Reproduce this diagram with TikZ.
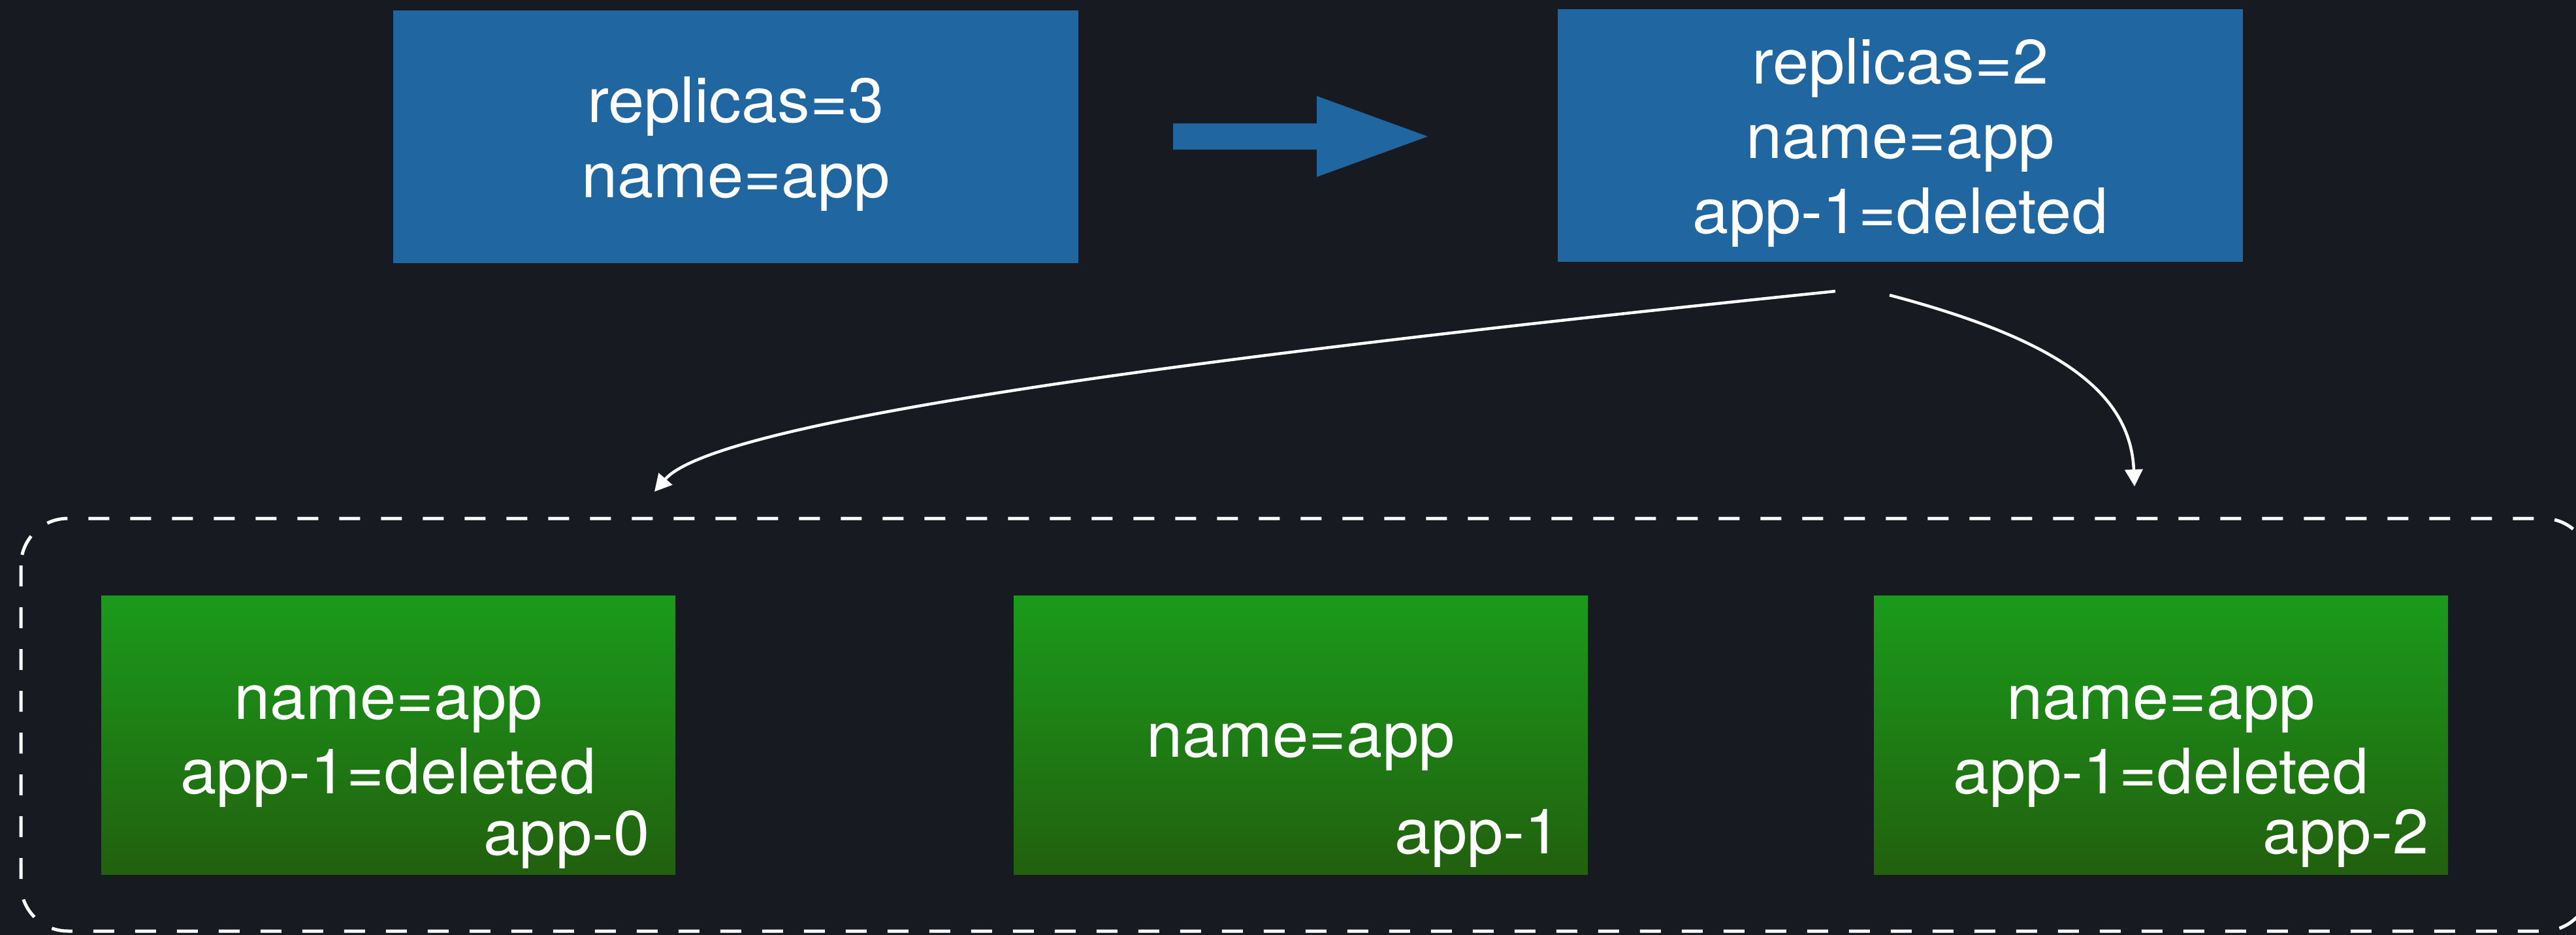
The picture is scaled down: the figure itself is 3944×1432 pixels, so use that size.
\documentclass[tikz,border=0pt]{standalone}
\usepackage{fontspec}
\setmainfont{TeX Gyre Heros}[FakeStretch=1.035]
\usetikzlibrary{arrows.meta}
\definecolor{bg}{HTML}{171A21}
\definecolor{boxblue}{HTML}{2066A0}
\definecolor{gtop}{HTML}{1A9B1B}
\definecolor{gbot}{HTML}{22600E}
\begin{document}
\begin{tikzpicture}[x=1pt,y=-1pt,
  bluebox/.style={fill=boxblue, draw=none, inner sep=0pt, minimum width=1049pt, minimum height=387pt},
  podbox/.style={top color=gtop, bottom color=gbot, draw=none, inner sep=0pt, minimum width=879pt, minimum height=427pt},
  lbl/.style={text=white, font=\fontsize{96}{115}\selectfont, inner sep=0pt, anchor=base},
  rlbl/.style={lbl, anchor=base east},
  link/.style={draw=white, line width=4.5pt, -{Triangle[length=26pt,width=27pt]}},
  group/.style={draw=white, line width=5pt, dash pattern=on 32pt off 32pt, rounded corners=72pt}
]
\useasboundingbox (0,0) rectangle (3944,1432);
\fill[bg] (0,0) rectangle (3944,1432);

% top boxes
\node[bluebox] (old) at (1126.5,209.5) {};
\node[bluebox] (new) at (2909.5,207.5) {};
\node[lbl] (oldA) at (1126.5,187) {replicas=3};
\node[lbl] (oldB) at (1126.5,302) {name=app};
\node[lbl] (newA) at (2909.5,128) {replicas=2};
\node[lbl] (newB) at (2909.5,242) {name=app};
\node[lbl] (newC) at (2909.5,357) {app-1=deleted};

% block arrow
\fill[boxblue] (1796,189) -- (2016,189) -- (2016,147) -- (2186,209) -- (2016,271) -- (2016,229) -- (1796,229) -- cycle;

% group
\draw[group] (32,794) rectangle (3966,1426);

% pods
\node[podbox] (p0) at (594.5,1125.5) {};
\node[podbox] (p1) at (1991.5,1125.5) {};
\node[podbox] (p2) at (3308.5,1125.5) {};

\node[lbl] (p0a) at (594.5,1101) {name=app};
\node[lbl] (p0b) at (594.5,1215) {app-1=deleted};
\node[rlbl] (p0c) at (995,1309) {app-0};

\node[lbl] (p1a) at (1991.5,1159) {name=app};
\node[rlbl] (p1c) at (2390,1307) {app-1};

\node[lbl] (p2a) at (3308.5,1101) {name=app};
\node[lbl] (p2b) at (3308.5,1215) {app-1=deleted};
\node[rlbl] (p2c) at (3719,1307) {app-2};

% connectors
\coordinate (s1) at (2810,446);
\coordinate (e1) at (1002,753);
\coordinate (s2) at (2893,452);
\coordinate (e2) at (3268,745);
\draw[link] (s1) .. controls (1900,540) and (1100,640) .. (e1);
\draw[link] (s2) .. controls (3150,520) and (3262,600) .. (e2);
\end{tikzpicture}
\end{document}
